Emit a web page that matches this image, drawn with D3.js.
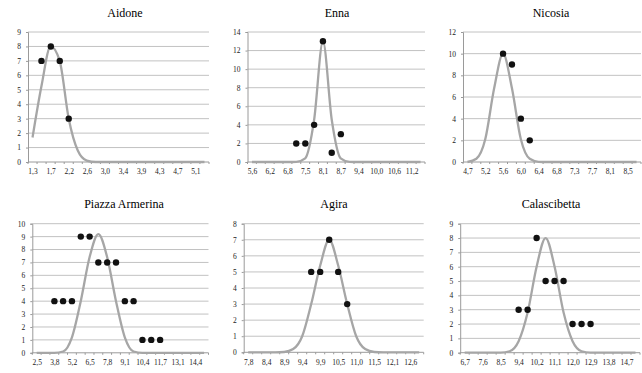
<!DOCTYPE html>
<html>
<head>
<meta charset="utf-8">
<script src="https://cdn.jsdelivr.net/npm/d3@7"></script>
<style>
  body { margin: 0; background: #fff; }
</style>
</head>
<body>
<svg id="chart" width="642" height="373"></svg>
<script>
// panel titles
var titles = ["Aidone", "Enna", "Nicosia", "Piazza Armerina", "Agira", "Calascibetta"];

// x tick labels (Excel shows every second category)
var aidoneLabels = ["1,3","1,7","2,2","2,6","3,0","3,4","3,9","4,3","4,7","5,1"];
var ennaLabels = ["5,6","6,2","6,8","7,5","8,1","8,7","9,4","10,0","10,6","11,2"];
var nicosiaLabels = ["4,7","5,2","5,6","6,0","6,4","6,8","7,3","7,7","8,1","8,5"];
var piazzaLabels = ["2,5","3,8","5,2","6,5","7,8","9,1","10,4","11,7","13,1","14,4"];
var agiraLabels = ["7,8","8,4","8,9","9,4","9,9","10,5","11,0","11,5","12,1","12,6"];
var calascibettaLabels = ["6,7","7,6","8,5","9,4","10,2","11,1","12,0","12,9","13,8","14,7"];

// first category and category width
var aidoneCat = [1.3, 0.2125];
var ennaCat = [5.6, 0.3125];
var nicosiaCat = [4.74, 0.21];
var piazzaCat = [2.53, 0.6575];
var agiraCat = [7.825, 0.265];
var calascibettaCat = [6.68, 0.445];

// y axis max and step
var aidoneYAxis = [9, 1];
var ennaYAxis = [14, 2];
var nicosiaYAxis = [12, 2];
var piazzaYAxis = [10, 1];
var agiraYAxis = [8, 1];
var calascibettaYAxis = [9, 1];

// observed values (dots)
var aidoneX = [1.51, 1.73, 1.94, 2.15];
var aidoneY = [7, 8, 7, 3];
var ennaX = [7.16, 7.48, 7.79, 8.1, 8.41, 8.73];
var ennaY = [2, 2, 4, 13, 1, 3];
var nicosiaX = [5.58, 5.79, 6.0, 6.21];
var nicosiaY = [10, 9, 4, 2];
var piazzaX = [3.85, 4.5, 5.16, 5.82, 6.48, 7.13, 7.79, 8.45, 9.11, 9.76, 10.42, 11.08, 11.74];
var piazzaY = [4, 4, 4, 9, 9, 7, 7, 7, 4, 4, 1, 1, 1];
var agiraX = [9.68, 9.945, 10.21, 10.475, 10.74];
var agiraY = [5, 5, 7, 5, 3];
var calascibettaX = [9.35, 9.795, 10.24, 10.685, 11.13, 11.575, 12.02, 12.465, 12.91];
var calascibettaY = [3, 3, 8, 5, 5, 5, 2, 2, 2];

// fitted normal curve, one value per category (20 categories)
var aidoneFit = [1.7, 5.3, 8.0, 7.0, 3.0, 0.8, 0.1, 0, 0, 0, 0, 0, 0, 0, 0, 0, 0, 0, 0, 0];
var ennaFit = [0, 0, 0, 0, 0, 0.02, 0.4, 4.5, 13, 4.5, 0.4, 0.02, 0, 0, 0, 0, 0, 0, 0, 0];
var nicosiaFit = [0, 0.3, 2.1, 6.8, 10, 6.8, 2.1, 0.3, 0.02, 0, 0, 0, 0, 0, 0, 0, 0, 0, 0, 0];
var piazzaFit = [0, 0, 0, 0.1, 1.2, 4.0, 7.4, 9.2, 7.4, 4.0, 1.2, 0.1, 0, 0, 0, 0, 0, 0, 0, 0];
var agiraFit = [0, 0, 0, 0, 0.02, 0.2, 1.0, 3.0, 5.4, 7.0, 5.4, 3.0, 1.0, 0.2, 0.02, 0, 0, 0, 0, 0];
var calascibettaFit = [0, 0, 0, 0, 0, 0.1, 0.8, 2.8, 6.0, 8.0, 6.0, 2.8, 0.8, 0.1, 0, 0, 0, 0, 0, 0];

var panels = [
  {title: titles[0], labels: aidoneLabels, cat: aidoneCat, yAxis: aidoneYAxis, xs: aidoneX, ys: aidoneY, fit: aidoneFit},
  {title: titles[1], labels: ennaLabels, cat: ennaCat, yAxis: ennaYAxis, xs: ennaX, ys: ennaY, fit: ennaFit},
  {title: titles[2], labels: nicosiaLabels, cat: nicosiaCat, yAxis: nicosiaYAxis, xs: nicosiaX, ys: nicosiaY, fit: nicosiaFit},
  {title: titles[3], labels: piazzaLabels, cat: piazzaCat, yAxis: piazzaYAxis, xs: piazzaX, ys: piazzaY, fit: piazzaFit},
  {title: titles[4], labels: agiraLabels, cat: agiraCat, yAxis: agiraYAxis, xs: agiraX, ys: agiraY, fit: agiraFit},
  {title: titles[5], labels: calascibettaLabels, cat: calascibettaCat, yAxis: calascibettaYAxis, xs: calascibettaX, ys: calascibettaY, fit: calascibettaFit}
];

// plot boxes (page pixels)
var layout = [
  {ox: 0,   L: 28,   R: 209,   top: 32,    bottom: 162,   tx: 125, ty: 16.5},
  {ox: 214, L: 33.5, R: 211,   top: 32,    bottom: 162,   tx: 123, ty: 16.5},
  {ox: 428, L: 35,   R: 213,   top: 32,    bottom: 162,   tx: 123, ty: 16.5},
  {ox: 0,   L: 32.3, R: 208.5, top: 223.7, bottom: 352.8, tx: 124, ty: 207.5},
  {ox: 214, L: 29.7, R: 209.7, top: 223.7, bottom: 352.3, tx: 120, ty: 207.5},
  {ox: 428, L: 32.2, R: 212,   top: 223.7, bottom: 352.7, tx: 123, ty: 207.5}
];

var nCat = 20;
var serif = "'Liberation Serif', 'Times New Roman', serif";
var svg = d3.select("#chart");

panels.forEach(function(p, k) {
  var lay = layout[k];
  var c0 = p.cat[0], step = p.cat[1];

  var x = d3.scaleLinear()
      .domain([c0 - step / 2, c0 + (nCat - 0.5) * step])
      .range([lay.L, lay.R]);
  var y = d3.scaleLinear()
      .domain([0, p.yAxis[0]])
      .range([lay.bottom, lay.top]);

  var g = svg.append("g").attr("transform", "translate(" + lay.ox + ",0)");

  // title
  g.append("text")
      .attr("x", lay.tx)
      .attr("y", lay.ty)
      .attr("text-anchor", "middle")
      .style("font-family", serif)
      .style("font-size", "12px")
      .style("fill", "#000")
      .text(p.title);

  // horizontal gridlines
  var yTicks = d3.range(0, p.yAxis[0] + 0.001, p.yAxis[1]);
  g.append("g").selectAll("line")
    .data(yTicks.slice(1))
    .enter().append("line")
      .attr("x1", lay.L).attr("x2", lay.R)
      .attr("y1", function(d) { return y(d); })
      .attr("y2", function(d) { return y(d); })
      .style("stroke", "#c2c2c2")
      .style("stroke-width", 1);

  // y axis
  var ya = g.append("g")
      .attr("transform", "translate(" + lay.L + ",0)")
      .call(d3.axisLeft(y).tickValues(yTicks).tickSize(2).tickPadding(5).tickFormat(d3.format("d")));
  ya.select(".domain").style("stroke", "#9a9a9a");
  ya.selectAll(".tick line").style("stroke", "#9a9a9a");
  ya.selectAll("text").style("font-family", serif).style("font-size", "7.5px").style("fill", "#222");

  // x axis: labels every second category
  var tickPos = p.labels.map(function(d, i) { return c0 + 2 * i * step; });
  var xa = g.append("g")
      .attr("transform", "translate(0," + lay.bottom + ")")
      .call(d3.axisBottom(x).tickValues(tickPos).tickSize(0).tickPadding(7)
        .tickFormat(function(d, i) { return p.labels[i]; }));
  xa.select(".domain").remove();
  xa.selectAll("text").style("font-family", serif).style("font-size", "7.5px").style("fill", "#222");

  // baseline and category ticks
  g.append("line")
      .attr("x1", lay.L).attr("x2", lay.R)
      .attr("y1", lay.bottom).attr("y2", lay.bottom)
      .style("stroke", "#9a9a9a");
  var bounds = d3.range(nCat + 1).map(function(i) { return c0 + (i - 0.5) * step; });
  g.append("g").selectAll("line")
    .data(bounds)
    .enter().append("line")
      .attr("x1", function(d) { return x(d); })
      .attr("x2", function(d) { return x(d); })
      .attr("y1", lay.bottom).attr("y2", lay.bottom + 2)
      .style("stroke", "#9a9a9a");

  // fitted curve
  var line = d3.line()
      .x(function(d, i) { return x(c0 + i * step); })
      .y(function(d) { return y(d); })
      .curve(d3.curveMonotoneX);
  g.append("path")
      .datum(p.fit)
      .attr("d", line)
      .style("fill", "none")
      .style("stroke", "#a6a6a6")
      .style("stroke-width", 2.3);

  // observed dots
  g.append("g").selectAll("circle")
    .data(p.xs)
    .enter().append("circle")
      .attr("cx", function(d) { return x(d); })
      .attr("cy", function(d, i) { return y(p.ys[i]); })
      .attr("r", 3.2)
      .style("fill", "#111");
});
</script>
</body>
</html>
